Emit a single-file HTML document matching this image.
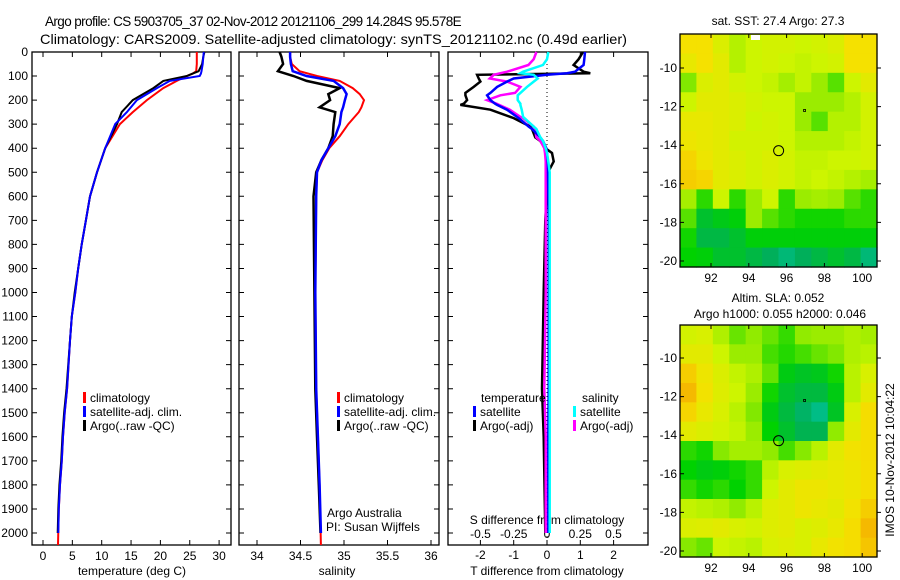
<!DOCTYPE html>
<html><head><meta charset="utf-8"><style>
html,body{margin:0;padding:0;background:#fff;}
svg{display:block;font-family:"Liberation Sans",sans-serif;}
</style></head><body>
<svg id="c" width="900" height="580" viewBox="0 0 900 580" xmlns="http://www.w3.org/2000/svg">
<text id="t1" x="45" y="26" font-size="13.5" letter-spacing="-0.6">Argo profile: CS 5903705_37 02-Nov-2012 20121106_299 14.284S 95.578E</text>
<text id="t2" x="40" y="44" font-size="14" textLength="587" lengthAdjust="spacingAndGlyphs">Climatology: CARS2009. Satellite-adjusted climatology: synTS_20121102.nc (0.49d earlier)</text>
<g id="g"></g>
</svg>
<script>
// ---- profile data ----
const depthT = [0,20,50,80,90,100,120,150,200,250,300,400,500,600,700,800,900,1000,1100,1200,1400,1500,1600,1700,1800,1900,2000];
const tempClim = [26.2,26.2,26.2,26.1,25.5,24.5,22.8,20.5,17.7,15.3,13.1,10.6,9.2,8.0,7.3,6.6,6.0,5.5,4.9,4.6,4.1,3.7,3.4,3.2,2.9,2.7,2.55];
const tempSat = [27.4,27.3,27.2,27.0,26.9,26.7,21.6,19.4,16.0,14.3,12.3,10.6,9.2,8.0,7.3,6.6,6.0,5.5,4.9,4.6,4.1,3.7,3.4,3.2,2.9,2.7,2.6];
const tempArgo = [27.5,27.3,27.1,26.5,25.5,24.5,20.5,18.8,15.3,13.4,12.6,10.6,9.2,8.0,7.3,6.6,6.0,5.4,4.9,4.6,4.0,3.6,3.3,3.1,2.8,2.6,2.5];
const depthS = [0,20,50,80,100,120,150,175,200,230,250,300,350,400,450,500,600,1000,1400,1600,1800,2000];
const salClim = [34.38,34.38,34.40,34.49,34.69,34.95,35.10,35.18,35.23,35.20,35.17,35.05,34.95,34.83,34.75,34.69,34.68,34.67,34.68,34.70,34.72,34.735];
const salSat = [34.38,34.38,34.39,34.41,34.57,34.88,34.99,35.03,35.01,34.99,34.97,34.95,34.90,34.82,34.74,34.69,34.68,34.67,34.68,34.70,34.72,34.735];
const salArgo = [34.26,34.28,34.30,34.24,34.42,34.57,34.95,34.82,34.84,34.72,34.90,34.88,34.87,34.82,34.74,34.68,34.65,34.66,34.67,34.69,34.71,34.73];
const depthD = [0,30,54,82,88,95,110,123,145,170,180,200,215,220,240,270,275,310,320,355,370,400,420,455,500,700,1000,1400,1600,2000];
const dTsat = [1.14,1.12,1.1,0.84,0.6,0.0,-1.0,-1.2,-1.5,-1.7,-1.8,-1.7,-1.56,-1.5,-1.2,-0.9,-0.85,-0.55,-0.45,-0.2,-0.12,-0.02,0.0,0.02,0.03,0.05,0.05,0.05,0.04,0.04];
const dTargo = [1.08,0.95,0.8,1.1,1.3,-2.1,-2.05,-2.0,-2.2,-2.45,-2.45,-2.4,-2.5,-2.6,-1.7,-1.1,-1.0,-0.5,-0.45,-0.35,-0.2,-0.05,0.15,0.2,0.03,-0.05,-0.1,-0.15,-0.1,-0.05];
const dSsat = [0.01,0.0,-0.03,-0.18,-0.2,-0.1,-0.07,-0.1,-0.15,-0.2,-0.22,-0.22,-0.2,-0.2,-0.19,-0.18,-0.17,-0.1,-0.08,-0.05,-0.03,-0.01,0.0,0.01,0.02,0.02,0.02,0.02,0.02,0.02];
const dSargo = [-0.08,-0.1,-0.14,-0.3,-0.35,-0.4,-0.43,-0.3,-0.2,-0.24,-0.35,-0.45,-0.38,-0.36,-0.28,-0.2,-0.18,-0.1,-0.09,-0.08,-0.05,-0.02,-0.015,-0.01,-0.01,-0.01,-0.01,-0.02,-0.01,-0.01];
const depthTicks = [0,100,200,300,400,500,600,700,800,900,1000,1100,1200,1300,1400,1500,1600,1700,1800,1900,2000];
const tempTicks = [0,5,10,15,20,25,30];
const salTicks = [34,34.5,35,35.5,36];
const dTTicks = [-2,-1,0,1,2];
const dSTicks = [-0.5,-0.25,0,0.25,0.5];
const dSTickLabels = ["-0.5","-0.25","0","0.25","0.5"];
// ---- map data (0 = teal, 1 = orange) ----
const lonTicks = [92,94,96,98,100];
const latTicks = [-10,-12,-14,-16,-18,-20];
const sstGrid = [
[0.85,0.85,0.75,0.65,0.7,0.72,0.72,0.7,0.72,0.75,0.85,0.85],
[0.8,0.85,0.78,0.65,0.7,0.72,0.7,0.68,0.7,0.72,0.85,0.85],
[0.55,0.75,0.78,0.72,0.7,0.68,0.62,0.68,0.6,0.5,0.7,0.78],
[0.7,0.78,0.78,0.75,0.72,0.7,0.7,0.6,0.6,0.6,0.65,0.72],
[0.8,0.8,0.78,0.75,0.7,0.72,0.7,0.6,0.5,0.65,0.65,0.72],
[0.82,0.8,0.78,0.72,0.72,0.72,0.7,0.65,0.65,0.65,0.68,0.72],
[0.88,0.82,0.78,0.75,0.72,0.75,0.72,0.68,0.68,0.7,0.7,0.72],
[0.9,0.88,0.78,0.75,0.72,0.75,0.72,0.68,0.7,0.68,0.65,0.62],
[0.62,0.45,0.7,0.45,0.6,0.7,0.45,0.6,0.62,0.6,0.5,0.45],
[0.5,0.3,0.35,0.38,0.6,0.5,0.45,0.42,0.42,0.42,0.45,0.45],
[0.42,0.25,0.25,0.3,0.38,0.38,0.38,0.38,0.38,0.38,0.38,0.38],
[0.4,0.38,0.3,0.3,0.25,0.2,0.15,0.2,0.25,0.3,0.25,0.15]];
const slaGrid = [
[0.72,0.74,0.64,0.52,0.58,0.52,0.46,0.58,0.6,0.6,0.64,0.62],
[0.78,0.78,0.7,0.6,0.6,0.48,0.44,0.48,0.52,0.55,0.64,0.66],
[0.9,0.82,0.75,0.68,0.64,0.52,0.36,0.32,0.34,0.42,0.66,0.74],
[0.95,0.84,0.76,0.7,0.6,0.42,0.3,0.26,0.26,0.36,0.66,0.78],
[0.88,0.8,0.74,0.66,0.55,0.36,0.26,0.18,0.12,0.32,0.74,0.86],
[0.78,0.75,0.72,0.68,0.6,0.4,0.3,0.22,0.22,0.58,0.78,0.86],
[0.45,0.42,0.56,0.62,0.62,0.58,0.48,0.56,0.66,0.78,0.84,0.86],
[0.4,0.36,0.38,0.42,0.46,0.66,0.74,0.76,0.78,0.8,0.82,0.86],
[0.46,0.42,0.45,0.4,0.46,0.7,0.78,0.82,0.82,0.8,0.82,0.86],
[0.68,0.66,0.64,0.58,0.66,0.76,0.78,0.82,0.8,0.78,0.84,0.9],
[0.75,0.76,0.78,0.74,0.72,0.76,0.78,0.74,0.76,0.8,0.86,0.95],
[0.56,0.52,0.7,0.68,0.66,0.74,0.76,0.74,0.8,0.84,0.86,0.92]];
const argoLon = 95.578, argoLat = -14.284;

const NS='http://www.w3.org/2000/svg', G=document.getElementById('g');
function mk(t,a,txt){const e=document.createElementNS(NS,t);for(const k in a)e.setAttribute(k,a[k]);if(txt!==undefined)e.textContent=txt;G.appendChild(e);return e;}
const Y=d=>52+d*0.2405;
const xT=v=>43+v*5.87, xS=v=>257+(v-34)*87, xDT=v=>547+v*33.3, xDS=v=>547+v*133;

function panel(x0,x1,name){
  const r=mk('rect',{x:x0,y:52,width:x1-x0,height:493,fill:'none',stroke:'#000','stroke-width':1.3});
  
  depthTicks.forEach(d=>{
    const t=mk('path',{d:`M${x0},${Y(d)}h5M${x1},${Y(d)}h-5`,stroke:'#000'});
    
  });
}
function line(xs,ds,fx,col,w,name){
  const p=mk('polyline',{points:xs.map((v,i)=>fx(v).toFixed(1)+','+Y(ds[i]).toFixed(1)).join(' '),fill:'none',stroke:col,'stroke-width':w});
  
}
function txt(x,y,s,name,anchor,size){
  const t=mk('text',{x:x,y:y,'font-size':size||12,'text-anchor':anchor||'start'},s);
  return t;
}
panel(32,231,'temperature-panel');panel(239,439,'salinity-panel');panel(448,648,'difference-panel');
depthTicks.forEach(d=>{txt(28,Y(d)+4,String(d),'depth-tick-label','end');});
tempTicks.forEach(v=>{mk('path',{d:`M${xT(v)},545v-5M${xT(v)},52v5`,stroke:'#000'});txt(xT(v),560,String(v),'temp-tick-label','middle');});
salTicks.forEach(v=>{mk('path',{d:`M${xS(v)},545v-5M${xS(v)},52v5`,stroke:'#000'});txt(xS(v),560,String(v),'salinity-tick-label','middle');});
dTTicks.forEach(v=>{mk('path',{d:`M${xDT(v)},545v-5M${xDT(v)},52v5`,stroke:'#000'});txt(xDT(v),559,String(v),'dt-tick-label','middle');});
dSTicks.forEach((v,i)=>{txt(xDS(v),538,dSTickLabels[i],'ds-tick-label','middle');});
txt(132,575,'temperature (deg C)','temperature-axis-title','middle');
txt(337,575,'salinity','salinity-axis-title','middle');
txt(547,575,'T difference from climatology','dt-axis-title','middle');
txt(547,524,'S difference from climatology','ds-axis-title','middle');
const z=mk('line',{x1:xDT(0),x2:xDT(0),y1:52,y2:545,stroke:'#000','stroke-dasharray':'1,3'});

line(tempClim,depthT.map((d,i)=>i==depthT.length-1?2050:d),xT,'#f00',2,'temp-climatology');
line(tempArgo,depthT,xT,'#000',2,'temp-argo');
line(tempSat,depthT,xT,'#00f',2,'temp-satellite');
line(salClim,depthS.map((d,i)=>i==depthS.length-1?2050:d),xS,'#f00',2,'sal-climatology');
line(salArgo,depthS,xS,'#000',2.5,'sal-argo');
line(salSat,depthS,xS,'#00f',2.5,'sal-satellite');
line(dTargo,depthD,xDT,'#000',2.5,'dt-argo');
line(dSargo,depthD,xDS,'#f0f',2.5,'ds-argo');
line(dTsat,depthD,xDT,'#00f',2.5,'dt-satellite');
line(dSsat,depthD,xDS,'#0ff',2.5,'ds-satellite');
function leg(x,y,col,s,name){const r=mk('rect',{x:x,y:y-10,width:3,height:11,fill:col});txt(x+7,y,s,name);}
[[83,'#f00','climatology'],[83,'#00f','satellite-adj. clim.'],[83,'#000','Argo(..raw -QC)']].forEach((a,i)=>leg(a[0],402+i*14,a[1],a[2],'temp-legend-entry'));
[[337,'#f00','climatology'],[337,'#00f','satellite-adj. clim.'],[337,'#000','Argo(..raw -QC)']].forEach((a,i)=>leg(a[0],402+i*14,a[1],a[2],'sal-legend-entry'));
txt(481,402,'temperature','dt-legend-title');txt(582,402,'salinity','ds-legend-title');
leg(473,416,'#00f','satellite','dt-legend-entry');leg(473,430,'#000','Argo(-adj)','dt-legend-entry');
leg(573,416,'#0ff','satellite','ds-legend-entry');leg(573,430,'#f0f','Argo(-adj)','ds-legend-entry');
txt(327,517,'Argo Australia','credit-line-1');txt(326,531,'PI: Susan Wijffels','credit-line-2');
const stops=[[0,[0,210,200]],[0.2,[0,175,90]],[0.4,[0,210,0]],[0.55,[130,232,0]],[0.7,[205,245,0]],[0.85,[245,225,0]],[1,[245,165,0]]];
function cmap(v){for(let i=1;i<stops.length;i++){if(v<=stops[i][0]){const a=stops[i-1],b=stops[i],t=(v-a[0])/(b[0]-a[0]);return 'rgb('+a[1].map((c,k)=>Math.round(c+(b[1][k]-c)*t)).join(',')+')';}}return 'rgb(245,165,0)';}
function map(grid,x0,x1,y0,y1,latA,yA,name){
  const lonX=l=>711+(l-92)*18.9, latY=l=>yA+(-10-l)*19.3;
  const nr=grid.length,nc=grid[0].length,cw=(x1-x0)/nc,ch=(y1-y0)/nr;
  grid.forEach((row,r)=>row.forEach((v,c)=>{
    const e=mk('rect',{x:(x0+c*cw).toFixed(2),y:(y0+r*ch).toFixed(2),width:(cw+0.6).toFixed(2),height:(ch+0.6).toFixed(2),fill:cmap(v)});
    
  }));
  const b=mk('rect',{x:x0,y:y0,width:x1-x0,height:y1-y0,fill:'none',stroke:'#000','stroke-width':1.3});
  
  lonTicks.forEach(l=>{mk('path',{d:`M${lonX(l)},${y1}v-4M${lonX(l)},${y0}v4`,stroke:'#000'});txt(lonX(l),y1+15,String(l),'lon-tick-label','middle');});
  latTicks.forEach(l=>{mk('path',{d:`M${x0},${latY(l)}h4M${x1},${latY(l)}h4`,stroke:'#000'});txt(x0-3,latY(l)+4,String(l),'lat-tick-label','end');});
  const c=mk('circle',{cx:lonX(argoLon),cy:latY(argoLat),r:5,fill:'none',stroke:'#000'});
  
  mk('rect',{x:lonX(96.95)-1,y:latY(-12.2)-1,width:2,height:2,fill:'none',stroke:'#000','stroke-width':0.8});
}
map(sstGrid,680,877,34,267,-10,68,'sst-map');
map(slaGrid,680,877,325,557,-10,358,'sla-map');
const w=mk('rect',{x:751,y:35,width:9,height:5,fill:'#fff'});
txt(778,25,'sat. SST: 27.4  Argo: 27.3','sst-map-title','middle');
txt(778,302,'Altim. SLA: 0.052','sla-map-title','middle');
txt(780,318,'Argo h1000: 0.055 h2000: 0.046','sla-map-subtitle','middle');
const v=txt(0,0,'IMOS 10-Nov-2012 10:04:22','timestamp-label','middle');
v.setAttribute('transform','translate(894,460) rotate(-90)');
</script>
</body></html>
